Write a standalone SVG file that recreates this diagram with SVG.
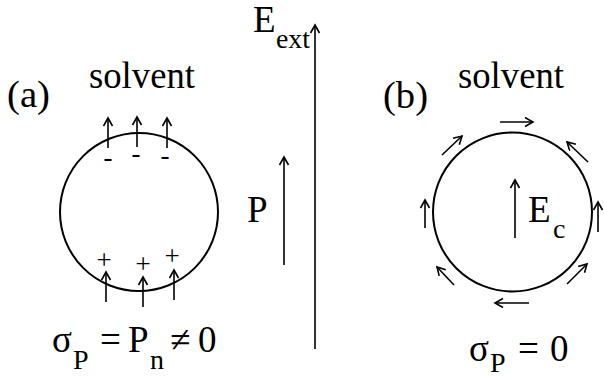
<svg xmlns="http://www.w3.org/2000/svg" width="604" height="377" viewBox="0 0 604 377" font-family="'DejaVu Serif', serif">
<style>
text{font-family:'Liberation Serif','DejaVu Serif',serif;fill:#000}
.m{font-size:37px}
.s{font-size:28px}
.q{font-size:27px}
.c{fill:none;stroke:#000;stroke-width:2}
.a{fill:none;stroke:#000;stroke-width:1.6;marker-end:url(#h)}
</style>
<defs>
<marker id="h" markerUnits="userSpaceOnUse" markerWidth="12" markerHeight="12" refX="9" refY="5" orient="auto">
<path d="M1,0.5 L9,5 L1,9.5" fill="none" stroke="#000" stroke-width="1.6"/>
</marker>
</defs>
<rect width="604" height="377" fill="#fff"/>
<g id="nodeA">
<circle class="c" cx="139" cy="212" r="79"/>
<text class="m" x="7" y="107" textLength="43" lengthAdjust="spacingAndGlyphs">(a)</text>
<text class="m" x="89" y="88" textLength="106" lengthAdjust="spacingAndGlyphs">solvent</text>
<text class="q" x="108" y="166" text-anchor="middle">-</text>
<text class="q" x="136" y="162" text-anchor="middle">-</text>
<text class="q" x="165" y="164" text-anchor="middle">-</text>
<text class="q" x="104" y="269" text-anchor="middle">+</text>
<text class="q" x="143" y="273" text-anchor="middle">+</text>
<text class="q" x="172" y="265" text-anchor="middle">+</text>
<text class="m" x="52" y="352">σ</text>
<text class="s" x="73" y="369">P</text>
<text class="m" x="100" y="352">=</text>
<text class="m" x="128" y="352">P</text>
<text class="s" x="150" y="369">n</text>
<text class="m" x="170" y="352">≠</text>
<text class="m" x="198" y="352">0</text>
</g>
<g id="nodeB">
<circle class="c" cx="512.5" cy="212" r="79.5"/>
<text class="m" x="383" y="108" textLength="45" lengthAdjust="spacingAndGlyphs">(b)</text>
<text class="m" x="458" y="88" textLength="106" lengthAdjust="spacingAndGlyphs">solvent</text>
<text class="m" x="528" y="222">E</text>
<text class="s" x="553" y="238">c</text>
<text class="m" x="469" y="361">σ</text>
<text class="s" x="490" y="372">P</text>
<text class="m" x="518" y="361">=</text>
<text class="m" x="550" y="361">0</text>
</g>
<g id="labels">
<text class="m" x="253" y="32">E</text>
<text class="s" x="276" y="48" textLength="34" lengthAdjust="spacingAndGlyphs">ext</text>
<text class="m" x="247" y="222">P</text>
</g>
<g id="connectors">
<line class="a" x1="315" y1="349" x2="315" y2="25"/>
<line class="a" x1="284" y1="265" x2="284" y2="157"/>
<line class="a" x1="108" y1="148" x2="108" y2="118"/>
<line class="a" x1="137" y1="147" x2="137" y2="117"/>
<line class="a" x1="167" y1="148" x2="167" y2="118"/>
<line class="a" x1="106" y1="302" x2="106" y2="272"/>
<line class="a" x1="143" y1="307" x2="143" y2="277"/>
<line class="a" x1="174" y1="300" x2="174" y2="270"/>
<line class="a" x1="515" y1="238" x2="515" y2="180"/>
<line class="a" x1="500" y1="122" x2="533" y2="122"/>
<line class="a" x1="442" y1="155" x2="462" y2="136"/>
<line class="a" x1="588" y1="162" x2="567" y2="142"/>
<line class="a" x1="425" y1="228" x2="425" y2="200"/>
<line class="a" x1="598" y1="232" x2="598" y2="202"/>
<line class="a" x1="454" y1="285" x2="437" y2="267"/>
<line class="a" x1="567" y1="284" x2="587" y2="264"/>
<line class="a" x1="529" y1="303" x2="495" y2="303"/>
</g>
</svg>
